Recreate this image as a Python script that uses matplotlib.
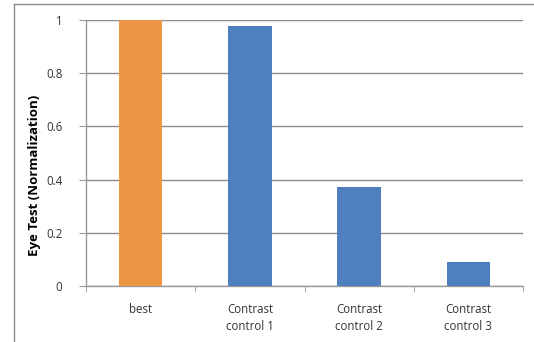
import matplotlib
matplotlib.use("Agg")
import matplotlib.pyplot as plt
from matplotlib.lines import Line2D
import numpy as np

categories = ["best", "Contrast\ncontrol 1", "Contrast\ncontrol 2", "Contrast\ncontrol 3"]
values = [1.0, 0.978, 0.372, 0.09]
bar_colors = ["#EE9646", "#4F7FBC", "#4F7FBC", "#4F7FBC"]
yticks = [0, 0.2, 0.4, 0.6, 0.8, 1]
ytick_labels = ["0", "0.2", "0.4", "0.6", "0.8", "1"]

plt.rcParams['font.family'] = ['Open Sans', 'DejaVu Sans']

fig = plt.figure(figsize=(5.34, 3.42), dpi=100)
ax = fig.add_axes([86/534, 1 - 286/342, (523-86)/534, (286-20)/342])

x = np.arange(len(categories))
ax.bar(x, values, width=0.4, color=bar_colors, zorder=3)

ax.set_xlim(-0.5, len(categories) - 0.5)
ax.set_ylim(0, 1)
ax.set_yticks(yticks)
ax.set_yticklabels(ytick_labels, fontsize=8.3, color="#333333")
ax.set_xticks(x)
ax.set_xticklabels(categories, fontsize=8.3, color="#333333", linespacing=1.45)
ax.set_xticks(np.arange(len(categories) + 1) - 0.5, minor=True)
ax.tick_params(axis='x', which='major', length=0, pad=12)
ax.tick_params(axis='x', which='minor', length=4, color="#999999", direction='out')
ax.tick_params(axis='y', length=5, color="#999999", direction='out', pad=12)

ax.yaxis.grid(True, color="#8C8C8C", linewidth=1.0, zorder=0)
ax.set_axisbelow(True)
for s in ["top", "right"]:
    ax.spines[s].set_visible(False)
for s in ["left", "bottom"]:
    ax.spines[s].set_color("#999999")
    ax.spines[s].set_linewidth(1.0)

ax.set_ylabel("Eye Test (Normalization)", fontsize=9.5, fontweight='bold')
ax.yaxis.set_label_coords((41 - 86) / 437, (286 - 175) / 266)

# outer chart-area border (top and left)
fig.add_artist(Line2D([13.5/534, 1.0], [1 - 3.5/342, 1 - 3.5/342], transform=fig.transFigure, color="#8C8C8C", linewidth=1.0))
fig.add_artist(Line2D([13.5/534, 13.5/534], [0, 1 - 3.5/342], transform=fig.transFigure, color="#8C8C8C", linewidth=1.0))

fig.savefig("out.png", dpi=100)
